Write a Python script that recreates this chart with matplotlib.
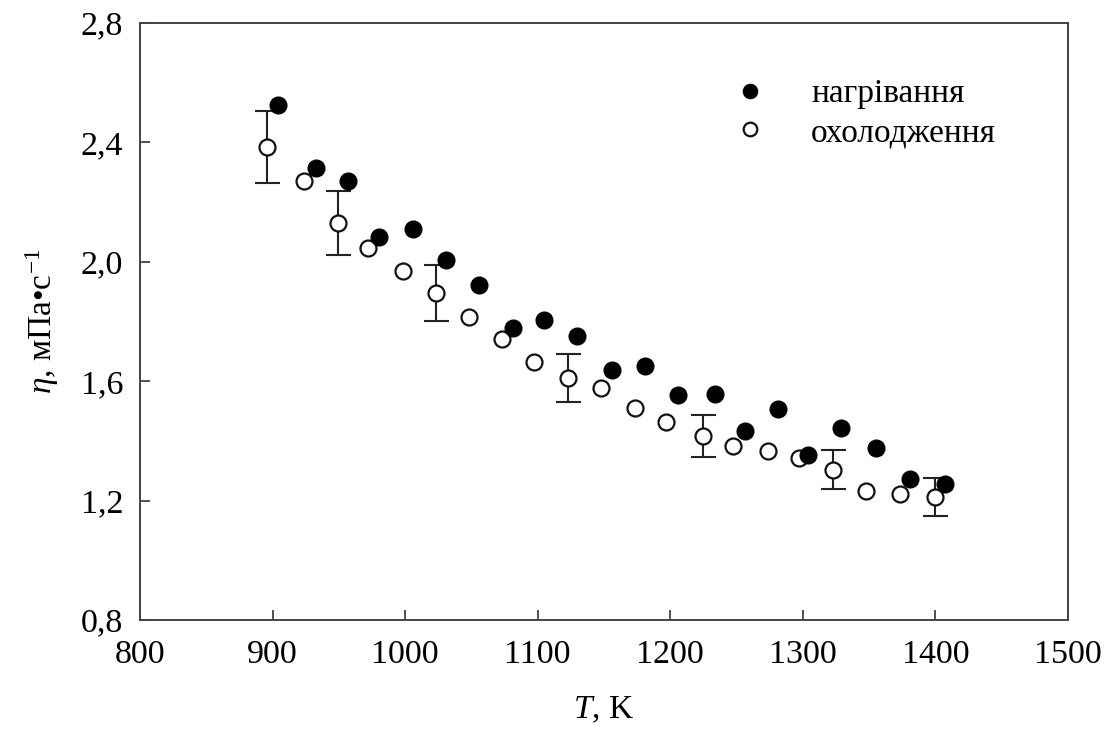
import numpy as np
import matplotlib
matplotlib.use('Agg')
import matplotlib.pyplot as plt

plt.rcParams['font.family'] = ['Liberation Serif', 'DejaVu Serif']
plt.rcParams['mathtext.fontset'] = 'custom'
plt.rcParams['mathtext.rm'] = 'Liberation Serif'
plt.rcParams['mathtext.it'] = 'Liberation Serif:italic'

# Viscosity on heating
heat_T = [904, 933, 957, 980, 1006, 1031, 1056, 1081, 1105, 1130, 1156,
          1181, 1206, 1234, 1256, 1281, 1304, 1329, 1355, 1381, 1407]
heat_eta = [2.525, 2.314, 2.271, 2.083, 2.110, 2.006, 1.922, 1.778, 1.805,
            1.751, 1.638, 1.651, 1.554, 1.557, 1.433, 1.507, 1.353, 1.443,
            1.376, 1.272, 1.256]

# Viscosity on cooling, with error bars on some of the points
cool_T = [896, 924, 949, 972, 998, 1023, 1048, 1073, 1097, 1123, 1148,
          1173, 1197, 1225, 1247, 1274, 1297, 1323, 1348, 1373, 1400]
cool_eta = [2.385, 2.271, 2.130, 2.046, 1.969, 1.895, 1.815, 1.741, 1.664,
            1.611, 1.577, 1.510, 1.463, 1.416, 1.383, 1.366, 1.343, 1.303,
            1.232, 1.222, 1.212]
cool_err = [0.120, 0, 0.107, 0, 0, 0.094, 0, 0, 0, 0.080, 0,
            0, 0, 0.070, 0, 0, 0, 0.065, 0, 0, 0.062]

x_ticks = [800, 900, 1000, 1100, 1200, 1300, 1400, 1500]
y_ticks = [0.8, 1.2, 1.6, 2.0, 2.4, 2.8]
y_tick_labels = ['0,8', '1,2', '1,6', '2,0', '2,4', '2,8']

fig = plt.figure(figsize=(11.14, 7.33), dpi=100)
ax = fig.add_axes([0.1257, 0.1542, 0.8330, 0.8144])

cT = np.array(cool_T)
ce = np.array(cool_eta)
cr = np.array(cool_err)
has_err = cr > 0
ax.errorbar(cT[has_err], ce[has_err], yerr=cr[has_err], fmt='none',
            ecolor='#222222', elinewidth=1.5, capsize=9, capthick=1.5, zorder=2)

ax.plot(cool_T, cool_eta, 'o', ms=11.5, mfc='white', mec='#111111', mew=1.6,
        linestyle='none', label='охолодження', zorder=3)
ax.plot(heat_T, heat_eta, 'o', ms=12, mfc='black', mec='black',
        linestyle='none', label='нагрівання', zorder=4)

ax.set_xlim(800, 1500)
ax.set_ylim(0.8, 2.8)
ax.set_xticks(x_ticks)
ax.set_xticklabels([str(t) for t in x_ticks])
ax.set_yticks(y_ticks)
ax.set_yticklabels(y_tick_labels)
ax.tick_params(direction='in', length=7, width=1.2, color='#333333',
               labelsize=24.5)
ax.tick_params(axis='x', pad=14)
ax.tick_params(axis='y', pad=12)
for s in ax.spines.values():
    s.set_linewidth(1.4)
    s.set_color('#444444')

ax.set_xlabel(r'$\it{T}$, K', fontsize=24, labelpad=18)
ax.set_ylabel(r'$\it{\eta}$, мПа•с$^{-1}$', fontsize=24, labelpad=14)

handles, labels = ax.get_legend_handles_labels()
ax.legend(handles[::-1], labels[::-1], loc='upper left',
          bbox_to_anchor=(0.607, 0.957), frameon=False, fontsize=24,
          handlelength=1.0, handletextpad=1.33, labelspacing=0.25,
          markerscale=0.85)

fig.savefig('out.png', dpi=100)
